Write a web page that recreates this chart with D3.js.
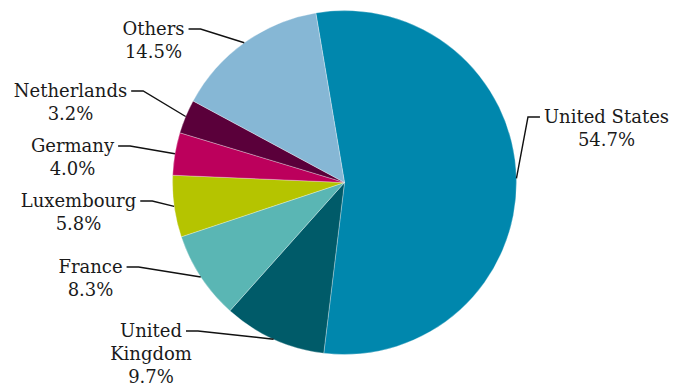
<!DOCTYPE html>
<html>
<head>
<meta charset="utf-8">
<script src="https://cdn.jsdelivr.net/npm/d3@7/dist/d3.min.js"></script>
<style>
  html, body { margin: 0; padding: 0; background: #fff; }
  svg { display: block; }
  .lbl { font-family: "DejaVu Serif", serif; font-size: 18px; fill: #1a1a1a; }
</style>
</head>
<body>
<svg id="chart" width="674" height="391"></svg>
<script>
// Share by country (%)
const countries = ["United States", "United Kingdom", "France", "Luxembourg", "Germany", "Netherlands", "Others"];
const shares = [54.7, 9.7, 8.3, 5.8, 4.0, 3.2, 14.5];
const labelLines = [
  ["United States"],
  ["United", "Kingdom"],
  ["France"],
  ["Luxembourg"],
  ["Germany"],
  ["Netherlands"],
  ["Others"]
];
const colors = ["#0087ad", "#005b69", "#5ab6b4", "#b5c400", "#bc005c", "#5a003a", "#86b7d5"];

// Label placement: text centre x, first baseline y, leader side
const labelPos = [
  { x: 606.5, y: 123, side: "left" },
  { x: 151, y: 337, side: "right" },
  { x: 90.5, y: 273, side: "right" },
  { x: 78.5, y: 207, side: "right" },
  { x: 72.5, y: 152, side: "right" },
  { x: 70.5, y: 97, side: "right" },
  { x: 153.5, y: 35, side: "right" }
];

const svg = d3.select("#chart");
const cx = 344.5, cy = 182.5, radius = 172;
const start = -9.6 * Math.PI / 180;

const data = countries.map((c, i) => ({ name: c, value: shares[i], i }));
const pie = d3.pie().sort(null).value(d => d.value)
  .startAngle(start).endAngle(start + 2 * Math.PI);
const arcs = pie(data);
const arc = d3.arc().innerRadius(0).outerRadius(radius);

const g = svg.append("g").attr("transform", `translate(${cx},${cy})`);
g.selectAll("path.slice")
  .data(arcs)
  .join("path")
  .attr("class", "slice")
  .attr("d", arc)
  .attr("fill", d => colors[d.data.i])
  .attr("stroke", "#ffffff")
  .attr("stroke-opacity", 0.5)
  .attr("stroke-width", 0.6);

const lineH = 23;
const labels = svg.append("g");
arcs.forEach(a => {
  const i = a.data.i;
  const p = labelPos[i];
  const lines = labelLines[i].concat([d3.format(".1f")(a.data.value) + "%"]);
  const t = labels.append("text")
    .attr("class", "lbl")
    .attr("text-anchor", "middle");
  lines.forEach((s, k) => {
    t.append("tspan").attr("x", p.x).attr("y", p.y + k * lineH).text(s);
  });
  // leader from the first line to the slice's mid-angle on the rim
  const w = t.select("tspan").node().getComputedTextLength();
  const mid = (a.startAngle + a.endAngle) / 2;
  const ex = cx + radius * Math.sin(mid);
  const ey = cy - radius * Math.cos(mid);
  const ly = p.y - 6;
  let x0, x1;
  if (p.side === "right") { x0 = p.x + w / 2 + 4; x1 = x0 + 12; }
  else { x0 = p.x - w / 2 - 4; x1 = x0 - 12; }
  labels.append("path")
    .attr("d", d3.line()([[x0, ly], [x1, ly], [ex, ey]]))
    .attr("fill", "none")
    .attr("stroke", "#111")
    .attr("stroke-width", 1.4);
});
</script>
</body>
</html>
